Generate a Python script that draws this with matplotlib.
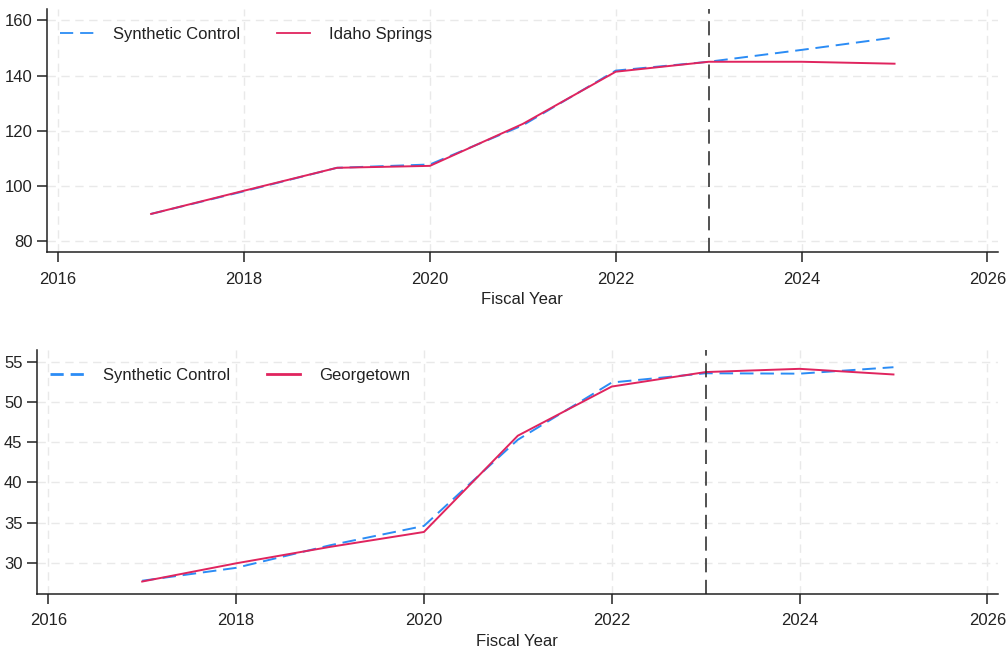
import matplotlib.pyplot as plt

plt.rcParams['font.family'] = ['Liberation Sans', 'DejaVu Sans']
plt.rcParams['font.size'] = 12

years = [2017, 2018, 2019, 2020, 2021, 2022, 2023, 2024, 2025]
treat_year = 2023

# Idaho Springs vs its synthetic control
idaho_actual = [89.9, 98.3, 106.6, 107.3, 122.5, 141.4, 145.0, 145.0, 144.3]
idaho_synth = [89.9, 98.1, 106.6, 107.8, 122.0, 141.8, 145.0, 149.3, 153.8]

# Georgetown vs its synthetic control
george_actual = [27.7, 29.96, 32.0, 33.85, 45.8, 51.9, 53.7, 54.1, 53.4]
george_synth = [27.8, 29.4, 32.2, 34.6, 45.3, 52.4, 53.55, 53.5, 54.3]

x_ticks = [2016, 2018, 2020, 2022, 2024, 2026]
idaho_yticks = [80, 100, 120, 140, 160]
george_yticks = [30, 35, 40, 45, 50, 55]

blue = '#2b8cf5'
red = '#e0245e'
W, H = 1006, 650

fig = plt.figure(figsize=(W / 100, H / 100), dpi=100)


def axes_px(left, top, right, bottom):
    return fig.add_axes([left / W, 1 - bottom / H, (right - left) / W, (bottom - top) / H])


def panel(ax, actual, synth, label, yticks, ylim, legend_lw):
    ax.plot(years, synth, color=blue, lw=1.4, ls=(0, (7, 3.5)), label='Synthetic Control')
    ax.plot(years, actual, color=red, lw=1.4, label=label)
    ax.axvline(treat_year, color='#333333', lw=1.2, ls=(0, (8.5, 4.5)))
    ax.set_xlim(2015.88, 2026.11)
    ax.set_ylim(*ylim)
    ax.set_xticks(x_ticks)
    ax.set_yticks(yticks)
    ax.grid(True, color='#e9e9e9', lw=1.0, ls=(0, (6, 4)))
    ax.set_axisbelow(True)
    for side in ['top', 'right']:
        ax.spines[side].set_visible(False)
    for side in ['left', 'bottom']:
        ax.spines[side].set_color('#222222')
        ax.spines[side].set_linewidth(1.1)
    ax.tick_params(length=7, width=1.1, color='#222222', labelcolor='#222222', labelsize=12)
    ax.tick_params(axis='x', pad=7)
    ax.set_xlabel('Fiscal Year', fontsize=12, color='#222222', labelpad=4)
    leg = ax.legend(loc='upper left', ncol=2, frameon=False, fontsize=12,
                    handlelength=2.0, handletextpad=1.15, columnspacing=2.2,
                    borderaxespad=0.4, bbox_to_anchor=(0.0, 0.982))
    handles = leg.get_lines()
    for line in handles:
        line.set_linewidth(legend_lw)
    # two full dashes in the synthetic-control key
    on, off = 9.5 / legend_lw, 5.0 / legend_lw
    handles[0].set_linestyle((0, (on, off)))
    for t in leg.get_texts():
        t.set_color('#222222')


ax1 = axes_px(47, 9.3, 997.7, 252.3)
panel(ax1, idaho_actual, idaho_synth, 'Idaho Springs', idaho_yticks, (76.0, 164.0), 1.3)

ax2 = axes_px(37, 350.3, 997.7, 593.7)
panel(ax2, george_actual, george_synth, 'Georgetown', george_yticks, (26.19, 56.4), 2.0)

fig.savefig('out.png', dpi=100)
